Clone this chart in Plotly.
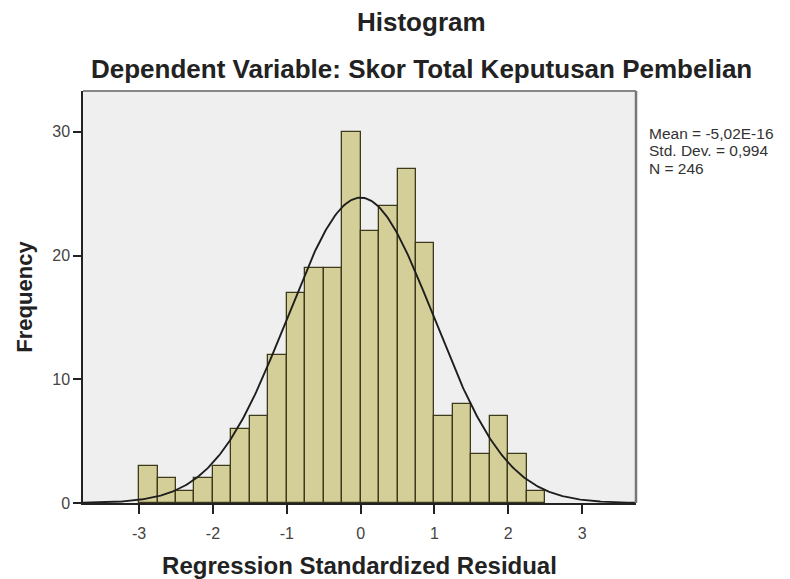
import numpy as np
import plotly.graph_objects as go

# ---- data ----
bin_left_edges = [-3.0, -2.75, -2.5, -2.25, -2.0, -1.75, -1.5, -1.25, -1.0, -0.75, -0.5,
                  -0.25, 0.0, 0.25, 0.5, 0.75, 1.0, 1.25, 1.5, 1.75, 2.0, 2.25]
frequencies = [3, 2, 1, 2, 3, 6, 7, 12, 17, 19, 19,
               30, 22, 24, 27, 21, 7, 8, 4, 7, 4, 1]
bin_width = 0.25
stat_mean = -5.02e-16
stat_sd = 0.994
stat_n = 246
x_tick_vals = [-3, -2, -1, 0, 1, 2, 3]
y_tick_vals = [0, 10, 20, 30]
stats_lines = ["Mean = -5,02E-16", "Std. Dev. = 0,994", "N = 246"]

FONT = "Liberation Sans, Arial, sans-serif"

# page body has an 8px default margin; size the figure to fit the window
BODY = 8
W, H = 790 - BODY, 579 - BODY
PL, PR, PT, PB = 83, 636, 91, 503          # plot area in window pixels
ML, MR, MT, MB = PL - BODY, W - (PR - BODY), PT - BODY, H - (PB - BODY)

def px(xw):
    return (xw - PL) / (PR - PL)

def py(yw):
    return 1 - (yw - PT) / (PB - PT)

bin_centers = [e + bin_width / 2 for e in bin_left_edges]

# normal curve implied by the stated mean / sd / N
x_range = [-3.76, 3.73]
xc = np.linspace(x_range[0], x_range[1], 400)
yc = stat_n * bin_width / (stat_sd * np.sqrt(2 * np.pi)) * np.exp(-0.5 * ((xc - stat_mean) / stat_sd) ** 2)

fig = go.Figure()
fig.add_trace(go.Bar(
    x=bin_centers, y=frequencies, width=bin_width,
    marker=dict(color="#d4cf98", line=dict(color="#3d3a1c", width=1.3)),
    hoverinfo="x+y", showlegend=False,
))
fig.add_trace(go.Scatter(
    x=xc, y=yc, mode="lines", line=dict(color="#1e1e1e", width=1.9),
    hoverinfo="skip", showlegend=False,
))

fig.update_layout(
    width=W, height=H,
    margin=dict(l=ML, r=MR, t=MT, b=MB, autoexpand=False),
    paper_bgcolor="white",
    plot_bgcolor="#efefef",
    bargap=0,
    font=dict(family=FONT, color="#333"),
    xaxis=dict(
        range=x_range, tickvals=x_tick_vals, ticktext=[str(v) for v in x_tick_vals],
        ticks="outside", ticklen=9, tickwidth=1.5, tickcolor="#222",
        ticklabelstandoff=6,
        tickfont=dict(size=16, color="#444", family=FONT),
        showgrid=False, zeroline=False,
        showline=True, linecolor="#222", linewidth=1.5, mirror=False,
        title=dict(text="<b>Regression Standardized Residual</b>",
                   font=dict(size=24, color="#222", family=FONT), standoff=22),
    ),
    yaxis=dict(
        range=[0, 33.3], tickvals=y_tick_vals,
        ticks="outside", ticklen=8, tickwidth=1.5, tickcolor="#222",
        tickfont=dict(size=16, color="#444", family=FONT),
        showgrid=False, zeroline=False,
        showline=True, linecolor="#222", linewidth=1.5,
        title=dict(text="<b>Frequency</b>", font=dict(size=22, color="#222", family=FONT),
                   standoff=14),
    ),
    shapes=[
        dict(type="line", xref="paper", yref="paper", x0=0, x1=1, y0=1, y1=1,
             line=dict(color="#888", width=2)),
        dict(type="line", xref="paper", yref="paper", x0=1, x1=1, y0=0, y1=1,
             line=dict(color="#777", width=2.5)),
    ],
)

fig.add_annotation(text="<b>Histogram</b>", xref="paper", yref="paper",
                   x=px(421), y=py(22), xanchor="center", yanchor="middle", showarrow=False,
                   font=dict(size=26, color="#222", family=FONT))
fig.add_annotation(text="<b>Dependent Variable: Skor Total Keputusan Pembelian</b>",
                   xref="paper", yref="paper",
                   x=px(421), y=py(69), xanchor="center", yanchor="middle", showarrow=False,
                   font=dict(size=26, color="#222", family=FONT))

for i, line in enumerate(stats_lines):
    fig.add_annotation(
        text=line, xref="paper", yref="paper",
        x=px(648), y=py(134 + i * 17),
        xanchor="left", yanchor="middle", showarrow=False,
        font=dict(size=15.5, color="#333", family=FONT),
        borderpad=0,
    )

fig.write_html("out.html")
